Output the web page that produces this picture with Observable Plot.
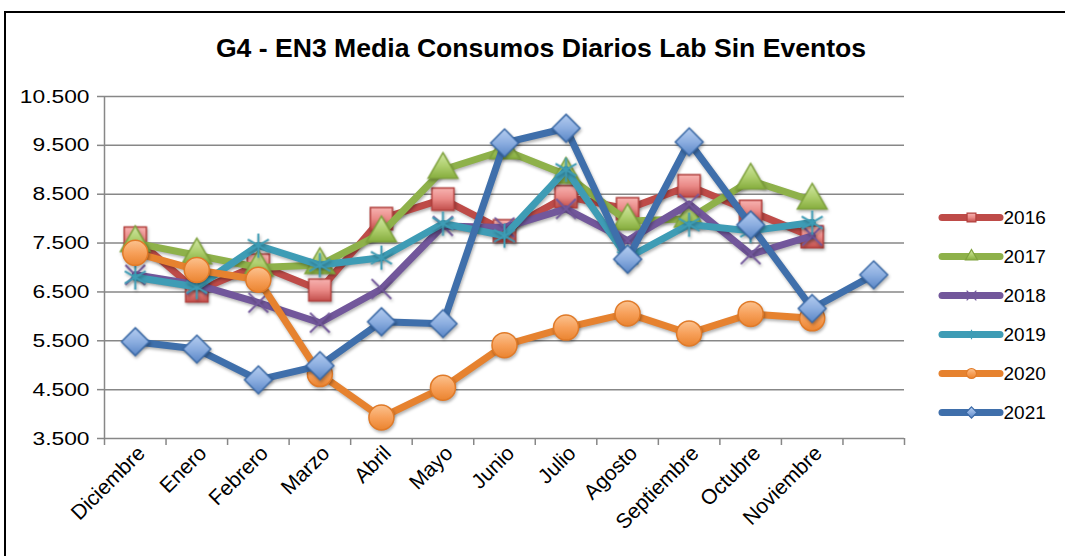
<!DOCTYPE html>
<html>
<head>
<meta charset="utf-8">
<script src="https://cdn.jsdelivr.net/npm/d3@7"></script>
<script src="https://cdn.jsdelivr.net/npm/@observablehq/plot@0.6"></script>
<style>
html, body { margin: 0; padding: 0; background: #fff; }
#wrap { position: relative; width: 1065px; height: 556px; overflow: hidden; font-family: "Liberation Sans", Arial, sans-serif; }
#frame { position: absolute; left: 4px; top: 11px; width: 1100px; height: 600px; border-left: 2.5px solid #000; border-top: 2.5px solid #000; }
#title { position: absolute; left: 0; top: 35px; width: 1082px; text-align: center; font-weight: bold; font-size: 26.6px; line-height: 26px; color: #000; white-space: nowrap; }
#chart { position: absolute; left: 0; top: 0; }
#legend { position: absolute; left: 935px; top: 195px; }
svg text { font-family: "Liberation Sans", Arial, sans-serif; }
#chart g[aria-label="line"], #chart g[aria-label="dot"] { filter: drop-shadow(1.5px 2px 1.5px rgba(0,0,0,0.3)); }
#chart g[aria-label^="x-axis"] line, #chart g[aria-label^="x-axis"] path,
#chart g[aria-label^="y-axis"] line, #chart g[aria-label^="y-axis"] path { stroke: #878787; stroke-width: 1.5; }
</style>
</head>
<body>
<svg width="0" height="0" style="position:absolute">
  <defs>
    <linearGradient id="g2016" x1="0" y1="0" x2="0" y2="1"><stop offset="0" stop-color="#F7B3B1"/><stop offset="0.5" stop-color="#EA8A87"/><stop offset="1" stop-color="#C24E4B"/></linearGradient>
    <linearGradient id="g2017" x1="0" y1="0" x2="0" y2="1"><stop offset="0" stop-color="#D2E7A6"/><stop offset="0.5" stop-color="#B0D06F"/><stop offset="1" stop-color="#86AD3E"/></linearGradient>
    <linearGradient id="g2020" x1="0" y1="0" x2="0" y2="1"><stop offset="0" stop-color="#FBC28F"/><stop offset="0.5" stop-color="#F7A05A"/><stop offset="1" stop-color="#EA8430"/></linearGradient>
    <linearGradient id="g2021" x1="0" y1="0" x2="0" y2="1"><stop offset="0" stop-color="#B5CDF0"/><stop offset="0.5" stop-color="#8CAEE0"/><stop offset="1" stop-color="#5A86C6"/></linearGradient>
  </defs>
</svg>
<div id="wrap">
  <div id="frame"></div>
  <div id="chart"></div>
  <div id="title">G4 - EN3 Media Consumos Diarios Lab Sin Eventos</div>
  <div id="legend"></div>
</div>
<script>
// ---- data ----
const categories = ["Diciembre","Enero","Febrero","Marzo","Abril","Mayo","Junio","Julio","Agosto","Septiembre","Octubre","Noviembre",""];
const years = ["2016","2017","2018","2019","2020","2021"];
const v2016 = [7600, 6520, 7050, 6540, 8000, 8400, 7750, 8450, 8200, 8670, 8150, 7630];
const v2017 = [7500, 7250, 7000, 7050, 7700, 9000, 9400, 8900, 7950, 8000, 8780, 8370];
const v2018 = [6850, 6650, 6280, 5870, 6560, 7850, 7820, 8200, 7550, 8300, 7270, 7650];
const v2019 = [6800, 6600, 7450, 7050, 7200, 7900, 7650, 9000, 7200, 7880, 7750, 7920];
const v2020 = [7300, 6950, 6750, 4820, 3930, 4540, 5410, 5770, 6060, 5650, 6050, 5960];
const v2021 = [5480, 5330, 4700, 4990, 5890, 5850, 9550, 9850, 7170, 9570, 7870, 6160, 6850];
const yTicks = [3500, 4500, 5500, 6500, 7500, 8500, 9500, 10500];

// ---- styles ----
const styles = {
  "2016": {color: "#BE4B48", symbol: "square",   r: 12.5, fill: "url(#g2016)", stroke: "#B3413E", sw: 1.5, lr: 5},
  "2017": {color: "#8EB14A", symbol: "triangle", r: 11,   fill: "url(#g2017)", stroke: "#7FA23D", sw: 1.5, lr: 4.5},
  "2018": {color: "#72579B", symbol: "times",    r: 9,    fill: "none",        stroke: "#72579B", sw: 2,   lr: 4.5},
  "2019": {color: "#3E9CB5", symbol: "asterisk", r: 11.5, fill: "none",        stroke: "#3E9CB5", sw: 2,   lr: 4.5},
  "2020": {color: "#E6822F", symbol: "circle",   r: 12.5, fill: "url(#g2020)", stroke: "#E07A28", sw: 1.5, lr: 5},
  "2021": {color: "#3F6FAB", symbol: "diamond2", r: 12.5, fill: "url(#g2021)", stroke: "#3A69A6", sw: 1.5, lr: 5}
};
const seriesValues = {"2016": v2016, "2017": v2017, "2018": v2018, "2019": v2019, "2020": v2020, "2021": v2021};

const loc = d3.formatLocale({decimal: ",", thousands: ".", grouping: [3], currency: ["", ""]});
const fmt = loc.format(",.0f");
const xTicks = d3.range(categories.length + 1);

const marks = [
  Plot.ruleY(yTicks, {stroke: "#878787", strokeWidth: 1.5}),
  Plot.ruleX([0], {stroke: "#878787", strokeWidth: 1.5})
];
years.forEach(yr => {
  const s = styles[yr];
  const rows = seriesValues[yr].map((v, i) => ({x: i + 0.5, y: v}));
  marks.push(Plot.line(rows, {x: "x", y: "y", stroke: s.color, strokeWidth: 7, strokeLinejoin: "round", strokeLinecap: "round"}));
  marks.push(Plot.dot(rows, {x: "x", y: "y", symbol: s.symbol, r: s.r, fill: s.fill, stroke: s.stroke, strokeWidth: s.sw}));
});
marks.push(Plot.text(categories, {x: (d, i) => i + 0.5, text: d => d, frameAnchor: "bottom", rotate: -45, textAnchor: "end", dx: 11, dy: 16, fontSize: 21, fill: "#000"}));

const chart = Plot.plot({
  width: 1065, height: 556,
  marginLeft: 104, marginRight: 161, marginTop: 96, marginBottom: 118,
  style: {fontSize: "19px", fontFamily: "'Liberation Sans', Arial, sans-serif", background: "transparent", overflow: "visible", color: "#000"},
  x: {domain: [0, categories.length], ticks: xTicks, tickFormat: () => "", tickSize: 7, label: null},
  y: {domain: [3500, 10500], ticks: yTicks, tickFormat: fmt, tickSize: 7, tickPadding: 8, label: null},
  marks
});
document.getElementById("chart").appendChild(chart);

// horizontal stretch of the y tick labels around their right end (reference text is wider)
const chartSvg = chart.tagName.toLowerCase() === "svg" ? chart : chart.querySelector("svg");
d3.select(chartSvg).selectAll('g[aria-label^="y-axis"] text').each(function() {
  const b = this.getBBox();
  const ax = b.x + b.width;
  const t = this.getAttribute("transform") || "";
  this.setAttribute("transform", `${t} translate(${ax},0) scale(1.2,1) translate(${-ax},0)`);
});

// ---- legend ----
const legend = Plot.plot({
  width: 130, height: 240,
  marginLeft: 7, marginRight: 65, marginTop: 20, marginBottom: 22,
  style: {fontSize: "19px", fontFamily: "'Liberation Sans', Arial, sans-serif", background: "transparent", overflow: "visible", color: "#000"},
  x: {domain: [0, 1], axis: null},
  y: {type: "point", domain: years, padding: 0, axis: null},
  marks: [
    Plot.ruleY(years, {y: d => d, x1: 0, x2: 1, stroke: d => styles[d].color, strokeWidth: 7, strokeLinecap: "round"}),
    ...years.map(yr => Plot.dot([yr], {x: 0.5, y: d => d, symbol: styles[yr].symbol, r: styles[yr].lr, fill: styles[yr].fill, stroke: styles[yr].stroke, strokeWidth: 1.2})),
    Plot.text(years, {x: 1, y: d => d, text: d => d, textAnchor: "start", dx: 3, fontSize: 19, fill: "#000"})
  ]
});
document.getElementById("legend").appendChild(legend);
</script>
</body>
</html>
